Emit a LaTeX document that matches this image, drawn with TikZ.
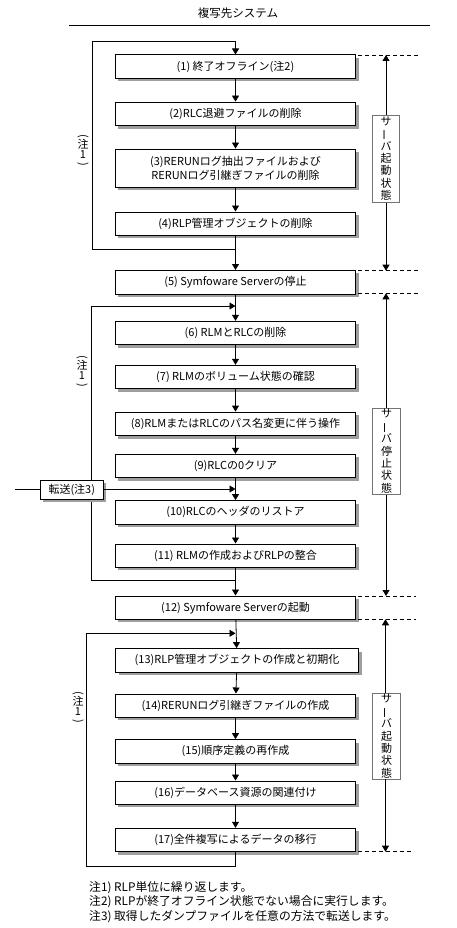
\documentclass[tikz,border=0pt]{standalone}
\usepackage{fontspec}
\setmainfont{Noto Sans CJK JP}
\usetikzlibrary{arrows.meta,shadows}
\begin{document}
\begin{tikzpicture}[x=1pt,y=-1pt,
  every node/.style={inner sep=0pt},
  stepbox/.style={draw, line width=0.9pt, fill=white, minimum width=240.4pt, minimum height=23.5pt,
    font=\fontsize{11}{14}\selectfont, align=center,
    drop shadow={shadow xshift=3pt, shadow yshift=-3pt, fill=black!38, opacity=1}},
  statebox/.style={draw=black!55, line width=0.7pt, fill=white, minimum width=27.5pt,
    font=\fontsize{11}{12.4}\selectfont, align=center},
  notelabel/.style={font=\fontsize{11}{9.5}\selectfont, align=center},
  line/.style={line width=0.8pt},
  arr/.style={line width=0.8pt, -{Triangle[length=6pt,width=7pt]}},
  dashline/.style={line width=0.8pt, dash pattern=on 4pt off 3pt}
]
\useasboundingbox (0,0) rectangle (456,928);

% title
\node[font=\fontsize{11.5}{13}\selectfont] (title) at (238,13) {複写先システム};
\coordinate (tl) at (69,25.7);
\coordinate (tr) at (430,25.7);
\draw[line] (tl) -- (tr);

% boxes
\node[stepbox] (b1) at (235.5,66.7) {(1) 終了オフライン(注2)};
\node[stepbox] (b2) at (235.5,113.8) {(2)RLC退避ファイルの削除};
\node[stepbox, minimum height=38pt] (b3) at (235.5,168) {(3)RERUNログ抽出ファイルおよび\\RERUNログ引継ぎファイルの削除};
\node[stepbox] (b4) at (235.5,223.7) {(4)RLP管理オブジェクトの削除};
\node[stepbox] (b5) at (235.5,282.2) {(5) Symfoware Serverの停止};
\node[stepbox] (b6) at (235.5,333) {(6) RLMとRLCの削除};
\node[stepbox] (b7) at (235.5,377) {(7) RLMのボリューム状態の確認};
\node[stepbox] (b8) at (235.5,423.8) {(8)RLMまたはRLCのパス名変更に伴う操作};
\node[stepbox] (b9) at (235.5,466) {(9)RLCの0クリア};
\node[stepbox] (b10) at (235.5,512.3) {(10)RLCのヘッダのリストア};
\node[stepbox] (b11) at (235.5,555.7) {(11) RLMの作成およびRLPの整合};
\node[stepbox] (b12) at (235.5,607.7) {(12) Symfoware Serverの起動};
\node[stepbox, minimum width=243pt] (b13) at (237,660.3) {(13)RLP管理オブジェクトの作成と初期化};
\node[stepbox] (b14) at (235.5,705.7) {(14)RERUNログ引継ぎファイルの作成};
\node[stepbox] (b15) at (235.5,751.3) {(15)順序定義の再作成};
\node[stepbox] (b16) at (235.5,792.7) {(16)データベース資源の関連付け};
\node[stepbox] (b17) at (235.5,840) {(17)全件複写によるデータの移行};

% main arrows
\draw[arr] (b1) -- (b2);
\draw[arr] (b2) -- (b3);
\draw[arr] (b3) -- (b4);
\draw[arr] (b4) -- (b5);
\draw[arr] (b5) -- (b6);
\draw[arr] (b6) -- (b7);
\draw[arr] (b7) -- (b8);
\draw[arr] (b8) -- (b9);
\draw[arr] (b9) -- (b10);
\draw[arr] (b10) -- (b11);
\draw[arr] (b11) -- (b12);
\draw[arr] (b12) -- (b13);
\draw[arr] (b13) -- (b14);
\draw[arr] (b14) -- (b15);
\draw[arr] (b15) -- (b16);
\draw[arr] (b16) -- (b17);

% loop 1
\coordinate (l1a) at (235.5,249.3);
\coordinate (l1b) at (92.3,249.3);
\coordinate (l1c) at (92.3,41.7);
\coordinate (l1d) at (235.5,41.7);
\draw[line] (l1a) -- (l1b) -- (l1c) -- (l1d);
\draw[arr] (l1d) -- (b1);
\node[notelabel] (n1) at (83,151) {\rotatebox[origin=c]{-90}{(}\\注\\1\\\rotatebox[origin=c]{-90}{)}};

% loop 2
\coordinate (l2a) at (235.5,580);
\coordinate (l2b) at (91.3,580);
\coordinate (l2c) at (91.3,306);
\coordinate (l2d) at (235.5,306);
\draw[line] (l2a) -- (l2b) -- (l2c);
\draw[arr] (l2c) -- (l2d);
\node[notelabel] (n2) at (82,372) {\rotatebox[origin=c]{-90}{(}\\注\\1\\\rotatebox[origin=c]{-90}{)}};

% transfer
\node[draw, line width=0.8pt, fill=white, minimum width=63pt, minimum height=19.3pt,
  font=\fontsize{11}{13}\selectfont,
  drop shadow={shadow xshift=3pt, shadow yshift=-3pt, fill=black!38, opacity=1}]
  (tr3) at (71.8,489.6) {転送(注3)};
\coordinate (t0) at (15,489);
\coordinate (t1) at (235.5,489);
\draw[line] (t0) -- (tr3.west |- t0);
\draw[arr] (tr3.east |- t1) -- (t1);

% loop 3
\coordinate (l3a) at (235.5,866);
\coordinate (l3b) at (86.3,866);
\coordinate (l3c) at (86.3,633.3);
\coordinate (l3d) at (235.5,633.3);
\draw[line] (b17) -- (l3a) -- (l3b) -- (l3c);
\draw[arr] (l3c) -- (l3d);
\node[notelabel] (n3) at (78,708) {\rotatebox[origin=c]{-90}{(}\\注\\1\\\rotatebox[origin=c]{-90}{)}};

% dashed state boundaries
\coordinate (d1a) at (358,55);    \coordinate (d1b) at (420,55);
\coordinate (d2a) at (358,270.7); \coordinate (d2b) at (418,270.7);
\coordinate (d3a) at (358,293.3); \coordinate (d3b) at (418,293.3);
\coordinate (d4a) at (358,596);   \coordinate (d4b) at (416,596);
\coordinate (d5a) at (358,619.3); \coordinate (d5b) at (416,619.3);
\coordinate (d6a) at (358,851.7); \coordinate (d6b) at (413,851.7);
\draw[dashline] (d1a) -- (d1b);
\draw[dashline] (d2a) -- (d2b);
\draw[dashline] (d3a) -- (d3b);
\draw[dashline] (d4a) -- (d4b);
\draw[dashline] (d5a) -- (d5b);
\draw[dashline] (d6a) -- (d6b);

% state labels
\node[statebox, minimum height=87.3pt] (s1) at (386,158.7) {サ\\\rotatebox[origin=c]{90}{ー}\\バ\\起\\動\\状\\態};
\node[statebox, minimum height=86pt] (s2) at (386.5,451.3) {サ\\\rotatebox[origin=c]{90}{ー}\\バ\\停\\止\\状\\態};
\node[statebox, minimum height=85.7pt] (s3) at (386.5,736.2) {サ\\\rotatebox[origin=c]{90}{ー}\\バ\\起\\動\\状\\態};
\coordinate (v1t) at (386,55);    \coordinate (v1b) at (386,270.7);
\coordinate (v2t) at (386,293.3); \coordinate (v2b) at (386,596);
\coordinate (v3t) at (385.5,619.3); \coordinate (v3b) at (385.5,851.7);
\draw[arr] (s1.north) -- (v1t);
\draw[arr] (s1.south) -- (v1b);
\draw[arr] (s2.north -| v2t) -- (v2t);
\draw[arr] (s2.south -| v2b) -- (v2b);
\draw[arr] (s3.north -| v3t) -- (v3t);
\draw[arr] (s3.south -| v3b) -- (v3b);

% notes
\node[anchor=north west, align=left, font=\fontsize{11.8}{14.7}\selectfont] (notes) at (89,881)
  {注1) RLP単位に繰り返します。\\注2) RLPが終了オフライン状態でない場合に実行します。\\注3) 取得したダンプファイルを任意の方法で転送します。};
\end{tikzpicture}
\end{document}
